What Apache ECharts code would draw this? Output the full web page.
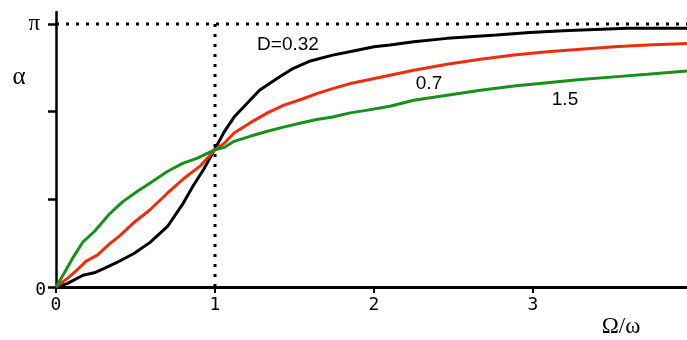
<!DOCTYPE html>
<html><head><meta charset="utf-8">
<script src="https://cdn.jsdelivr.net/npm/echarts@6/dist/echarts.min.js"></script>
<style>html,body{margin:0;padding:0;background:#fff}#c{width:687px;height:340px}</style>
</head><body><div id="c"></div>
<script>
const PI = Math.PI;
// axis ticks / labels
const yTickValues = [0, PI / 3, 2 * PI / 3, PI];
const yLabelValues = [0, PI];
const xTickLabels = ['0', '1', '2', '3', '4'];
const curveNames = ['D=0.32', '0.7', '1.5'];
const resonanceX = 1;     // Ω/ω = 1
const phaseLimit = PI;    // α → π

// D = 0.32 (black)
const blackX = [0, 0.07, 0.17, 0.24, 0.30, 0.38, 0.49, 0.59, 0.70, 0.80, 0.86, 0.93, 1.00, 1.06, 1.12, 1.18, 1.28, 1.39, 1.49, 1.60, 1.74, 1.87, 2.00, 2.10, 2.25, 2.46, 2.77, 2.98, 3.19, 3.59, 3.97];
const blackY = [0, 0.04, 0.14, 0.17, 0.22, 0.29, 0.40, 0.53, 0.72, 1.00, 1.20, 1.41, 1.65, 1.86, 2.03, 2.15, 2.35, 2.49, 2.61, 2.70, 2.77, 2.82, 2.87, 2.89, 2.93, 2.97, 3.01, 3.04, 3.06, 3.09, 3.09];
// D = 0.7 (red)
const redX = [0, 0.07, 0.13, 0.19, 0.26, 0.34, 0.40, 0.49, 0.59, 0.70, 0.80, 0.91, 1.00, 1.06, 1.12, 1.22, 1.33, 1.43, 1.54, 1.64, 1.74, 1.85, 1.95, 2.10, 2.25, 2.46, 2.67, 2.88, 3.09, 3.30, 3.51, 3.72, 3.97];
const redY = [0, 0.10, 0.20, 0.31, 0.38, 0.52, 0.61, 0.77, 0.92, 1.12, 1.29, 1.45, 1.64, 1.72, 1.84, 1.96, 2.08, 2.17, 2.24, 2.31, 2.37, 2.43, 2.47, 2.53, 2.59, 2.66, 2.72, 2.77, 2.81, 2.84, 2.87, 2.89, 2.91];
// D = 1.5 (green)
const greenX = [0, 0.05, 0.11, 0.17, 0.24, 0.34, 0.42, 0.51, 0.59, 0.70, 0.80, 0.89, 1.00, 1.06, 1.12, 1.22, 1.33, 1.43, 1.54, 1.64, 1.74, 1.85, 1.95, 2.10, 2.25, 2.46, 2.67, 2.88, 3.09, 3.30, 3.51, 3.72, 3.97];
const greenY = [0, 0.16, 0.36, 0.54, 0.66, 0.88, 1.02, 1.14, 1.24, 1.38, 1.48, 1.54, 1.64, 1.67, 1.74, 1.80, 1.86, 1.91, 1.96, 2.00, 2.03, 2.08, 2.11, 2.16, 2.23, 2.29, 2.35, 2.40, 2.44, 2.48, 2.51, 2.54, 2.58];

const zip = (xs, ys) => xs.map((x, i) => [x, ys[i]]);

const chart = echarts.init(document.getElementById('c'), null, {renderer: 'canvas'});
const dotted = {color: '#000', width: 3, type: [3, 7], cap: 'butt'};
const curve = (name, xs, ys, color) => ({
  name, type: 'line', data: zip(xs, ys), showSymbol: false, symbol: 'none',
  lineStyle: {color, width: 3}, z: 5, silent: true, animation: false
});

chart.setOption({
  animation: false,
  backgroundColor: '#fff',
  grid: {left: 56, right: -5, top: 12, bottom: 53, outerBoundsMode: 'none', containLabel: false},
  xAxis: {
    type: 'value', min: 0, max: 4, interval: 1,
    axisLine: {lineStyle: {color: '#000', width: 3}},
    axisTick: {show: true, length: 6, lineStyle: {color: '#000', width: 2}},
    axisLabel: {color: '#000', fontFamily: 'DejaVu Sans Mono', fontSize: 18, margin: 9,
      formatter: v => xTickLabels[Math.round(v)]},
    splitLine: {show: false}
  },
  yAxis: {
    type: 'value', min: 0, max: 3.285,
    axisLine: {show: true, lineStyle: {color: '#000', width: 2.5}},
    axisTick: {show: true, length: 8, customValues: yTickValues, lineStyle: {color: '#000', width: 2.5}},
    axisLabel: {
      customValues: yLabelValues, margin: 10,
      formatter: v => (v < 0.5 ? '{m|0}' : '{p|π}'),
      rich: {
        m: {fontFamily: 'DejaVu Sans Mono', fontSize: 18, color: '#000', padding: [6, 0, 0, 0]},
        p: {fontFamily: 'Liberation Serif', fontSize: 23, color: '#000', padding: [0, 6, 0, 0]}
      }
    },
    splitLine: {show: false}
  },
  series: [
    {type: 'line', data: [[resonanceX, 0], [resonanceX, phaseLimit]], symbol: 'none', lineStyle: dotted, z: 2, silent: true},
    {type: 'line', data: [[0, phaseLimit], [4, phaseLimit]], symbol: 'none', lineStyle: dotted, z: 2, silent: true},
    curve(curveNames[0], blackX, blackY, '#000000'),
    curve(curveNames[1], redX, redY, '#ec2e0c'),
    curve(curveNames[2], greenX, greenY, '#17901c')
  ],
  graphic: [
    {type: 'text', x: 19, y: 77, style: {text: 'α', font: '25px "Liberation Serif"', fill: '#000', align: 'center', verticalAlign: 'middle'}},
    {type: 'text', x: 621, y: 327, style: {text: 'Ω/ω', font: '23px "Liberation Serif"', fill: '#000', align: 'center', verticalAlign: 'middle'}},
    {type: 'text', x: 288, y: 45, style: {text: curveNames[0], font: '19px "Liberation Sans"', fill: '#000', align: 'center', verticalAlign: 'middle'}},
    {type: 'text', x: 429, y: 84, style: {text: curveNames[1], font: '19px "Liberation Sans"', fill: '#000', align: 'center', verticalAlign: 'middle'}},
    {type: 'text', x: 565, y: 100, style: {text: curveNames[2], font: '19px "Liberation Sans"', fill: '#000', align: 'center', verticalAlign: 'middle'}}
  ]
});
</script>
</body></html>
